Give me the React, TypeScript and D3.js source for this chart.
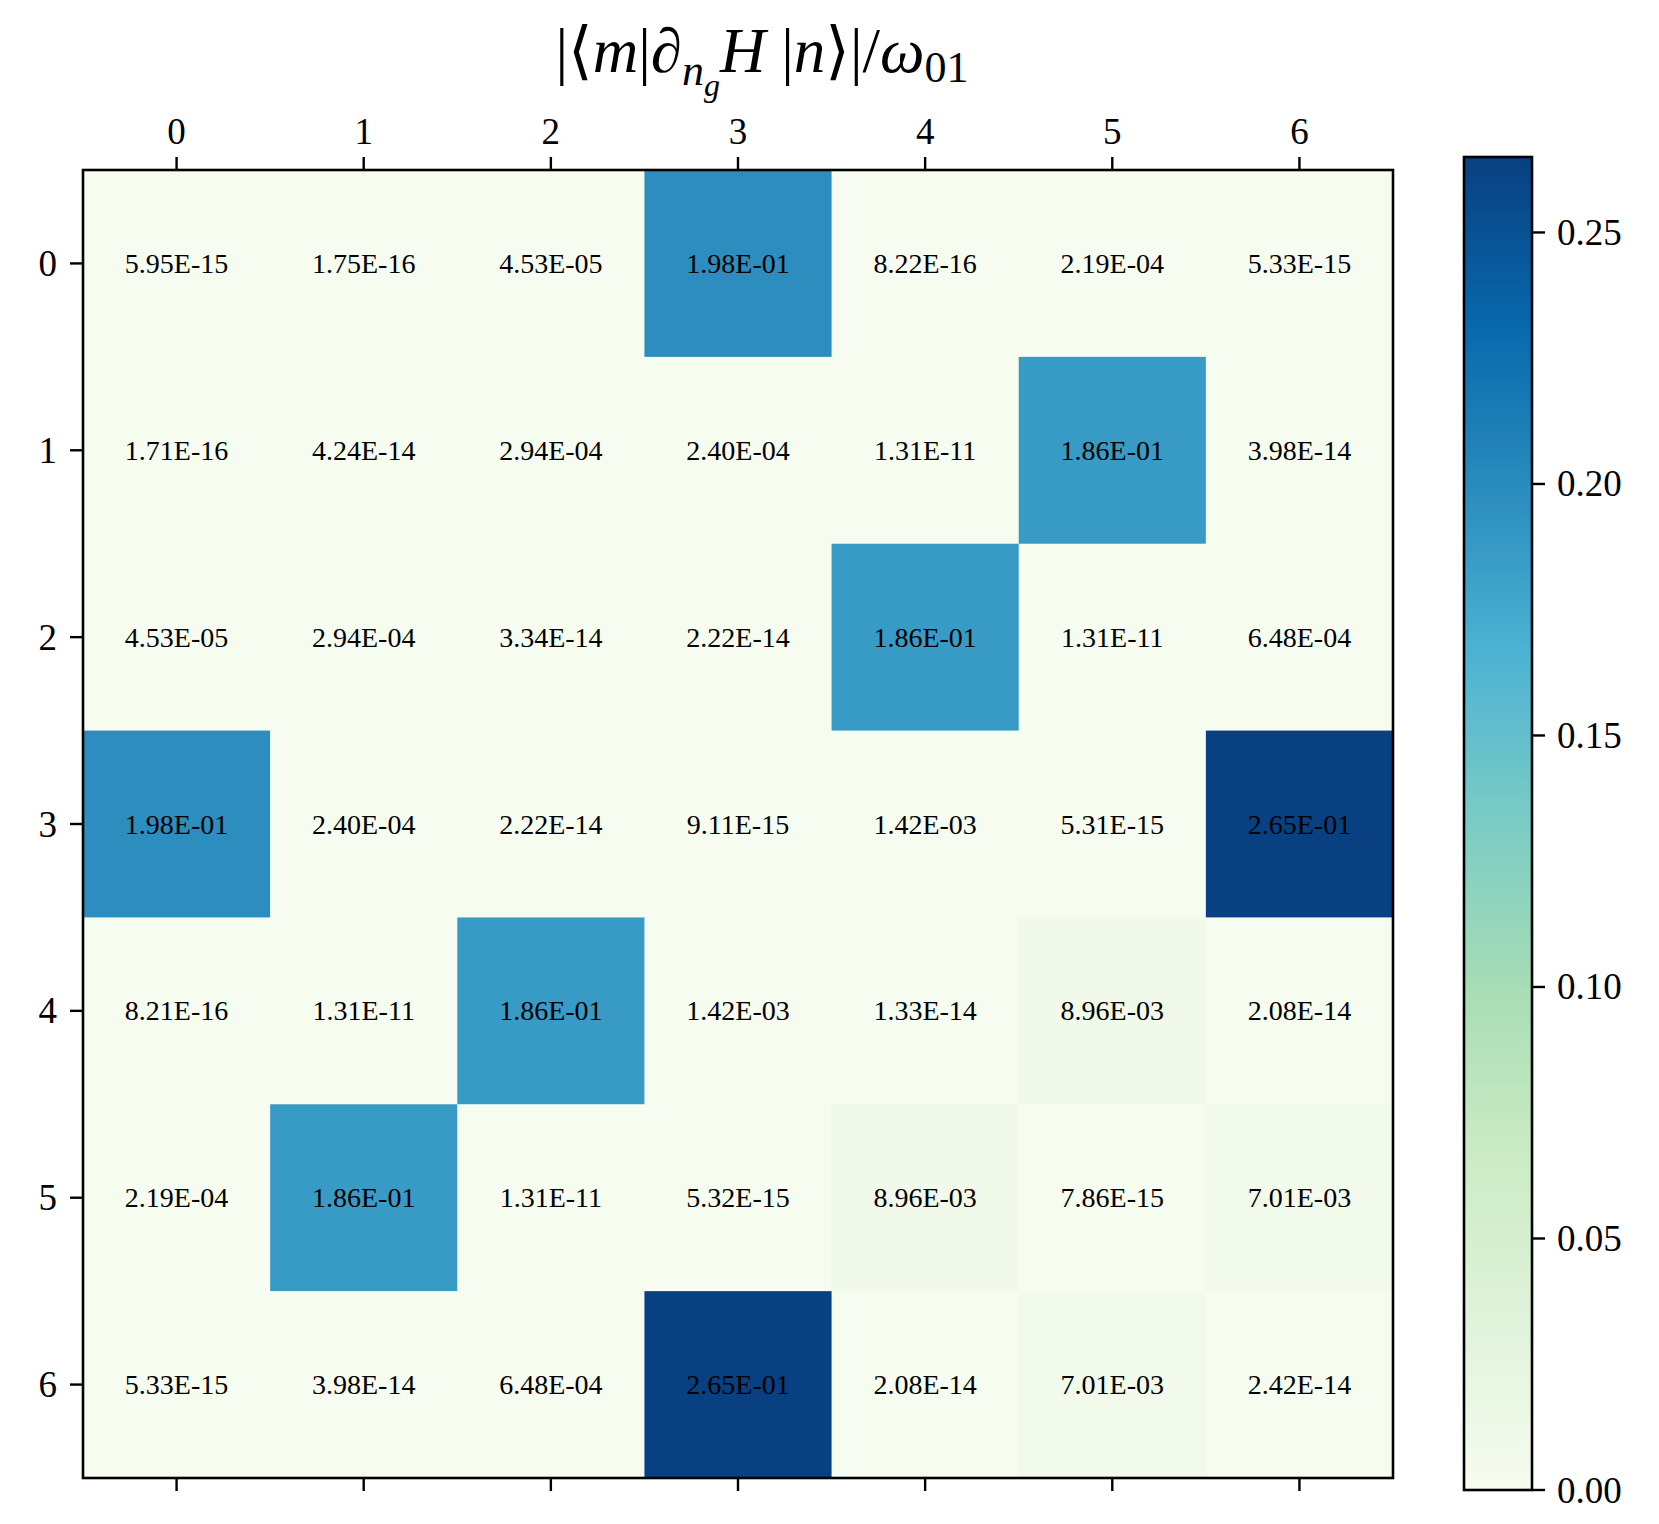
import React, { useEffect, useRef } from "react";
import * as d3 from "d3";

const rowLabels = ["0", "1", "2", "3", "4", "5", "6"];
const colLabels = ["0", "1", "2", "3", "4", "5", "6"];
const row0 = [5.95e-15, 1.75e-16, 4.53e-5, 1.98e-1, 8.22e-16, 2.19e-4, 5.33e-15];
const row1 = [1.71e-16, 4.24e-14, 2.94e-4, 2.4e-4, 1.31e-11, 1.86e-1, 3.98e-14];
const row2 = [4.53e-5, 2.94e-4, 3.34e-14, 2.22e-14, 1.86e-1, 1.31e-11, 6.48e-4];
const row3 = [1.98e-1, 2.4e-4, 2.22e-14, 9.11e-15, 1.42e-3, 5.31e-15, 2.65e-1];
const row4 = [8.21e-16, 1.31e-11, 1.86e-1, 1.42e-3, 1.33e-14, 8.96e-3, 2.08e-14];
const row5 = [2.19e-4, 1.86e-1, 1.31e-11, 5.32e-15, 8.96e-3, 7.86e-15, 7.01e-3];
const row6 = [5.33e-15, 3.98e-14, 6.48e-4, 2.65e-1, 2.08e-14, 7.01e-3, 2.42e-14];
const matrix = [row0, row1, row2, row3, row4, row5, row6];
const colorbarTicks = [0, 0.05, 0.1, 0.15, 0.2, 0.25];
const gnbu = ["#f7fcf0", "#e0f3db", "#ccebc5", "#a8ddb5", "#7bccc4", "#4eb3d3", "#2b8cbe", "#0868ac", "#084081"];

const W = 1659;
const H = 1524;
const FONT = "'Liberation Serif', 'DejaVu Serif', serif";

function fmt(v: number): string {
  const s = v.toExponential(2).toUpperCase();
  const m = s.match(/^(.*)E([+-])(\d+)$/);
  if (!m) return s;
  const exp = m[3].padStart(2, "0");
  return `${m[1]}E${m[2]}${exp}`;
}

export default function App() {
  const ref = useRef<SVGGElement | null>(null);

  useEffect(() => {
    const svg = d3.select(ref.current);
    svg.selectAll("*").remove();

    const left = 83, top = 170, right = 1393, bottom = 1478;
    const vmax = d3.max(matrix.flat()) as number;

    const x = d3.scaleBand<string>().domain(colLabels).range([left, right]);
    const y = d3.scaleBand<string>().domain(rowLabels).range([top, bottom]);

    const stops = gnbu.map((_, i) => (i / (gnbu.length - 1)) * vmax);
    const color = d3.scaleLinear<string>().domain(stops).range(gnbu).interpolate(d3.interpolateRgb).clamp(true);

    const g = svg.append("g");
    matrix.forEach((row, r) => {
      row.forEach((v, c) => {
        g.append("rect")
          .attr("x", x(colLabels[c]) as number)
          .attr("y", y(rowLabels[r]) as number)
          .attr("width", x.bandwidth() + 0.5)
          .attr("height", y.bandwidth() + 0.5)
          .attr("fill", color(v));
      });
    });
    matrix.forEach((row, r) => {
      row.forEach((v, c) => {
        g.append("text")
          .attr("x", (x(colLabels[c]) as number) + x.bandwidth() / 2)
          .attr("y", (y(rowLabels[r]) as number) + y.bandwidth() / 2)
          .attr("text-anchor", "middle")
          .attr("dominant-baseline", "central")
          .attr("font-family", FONT)
          .attr("font-size", 28)
          .attr("fill", "#000")
          .text(fmt(v));
      });
    });

    svg.append("rect")
      .attr("x", left).attr("y", top)
      .attr("width", right - left).attr("height", bottom - top)
      .attr("fill", "none").attr("stroke", "#000").attr("stroke-width", 2.6);

    const tickLen = 13;
    colLabels.forEach((lab) => {
      const cx = (x(lab) as number) + x.bandwidth() / 2;
      svg.append("line").attr("x1", cx).attr("x2", cx).attr("y1", top).attr("y2", top - tickLen)
        .attr("stroke", "#000").attr("stroke-width", 2.4);
      svg.append("line").attr("x1", cx).attr("x2", cx).attr("y1", bottom).attr("y2", bottom + tickLen)
        .attr("stroke", "#000").attr("stroke-width", 2.4);
      svg.append("text").attr("x", cx).attr("y", top - tickLen - 13)
        .attr("text-anchor", "middle").attr("font-family", FONT).attr("font-size", 37)
        .text(lab);
    });
    rowLabels.forEach((lab) => {
      const cy = (y(lab) as number) + y.bandwidth() / 2;
      svg.append("line").attr("x1", left).attr("x2", left - tickLen).attr("y1", cy).attr("y2", cy)
        .attr("stroke", "#000").attr("stroke-width", 2.4);
      svg.append("text").attr("x", left - tickLen - 13).attr("y", cy)
        .attr("text-anchor", "end").attr("dominant-baseline", "central")
        .attr("font-family", FONT).attr("font-size", 37)
        .text(lab);
    });

    const cbL = 1464, cbR = 1532, cbT = 157, cbB = 1490;
    const cy = d3.scaleLinear().domain([0, vmax]).range([cbB, cbT]);
    const defs = svg.append("defs");
    const grad = defs.append("linearGradient").attr("id", "cbgrad")
      .attr("x1", 0).attr("y1", 1).attr("x2", 0).attr("y2", 0);
    gnbu.forEach((col, i) => {
      grad.append("stop").attr("offset", i / (gnbu.length - 1)).attr("stop-color", col);
    });
    svg.append("rect").attr("x", cbL).attr("y", cbT).attr("width", cbR - cbL).attr("height", cbB - cbT)
      .attr("fill", "url(#cbgrad)").attr("stroke", "#000").attr("stroke-width", 2.6);
    colorbarTicks.forEach((t) => {
      const ty = cy(t);
      svg.append("line").attr("x1", cbR).attr("x2", cbR + tickLen).attr("y1", ty).attr("y2", ty)
        .attr("stroke", "#000").attr("stroke-width", 2.4);
      svg.append("text").attr("x", cbR + tickLen + 12).attr("y", ty)
        .attr("dominant-baseline", "central").attr("font-family", FONT).attr("font-size", 37)
        .text(t.toFixed(2));
    });
  }, []);

  const titleX = (83 + 1393) / 2 + 24;
  return (
    <svg width={W} height={H} style={{ display: "block", margin: -8 }} xmlns="http://www.w3.org/2000/svg">
      <rect width={W} height={H} fill="#fff" />
      <g ref={ref} />
      <text x={titleX} y={72} textAnchor="middle" fontFamily={FONT} fontSize={63}>
        <tspan>|⟨</tspan>
        <tspan fontStyle="italic">m</tspan>
        <tspan>|</tspan>
        <tspan fontStyle="italic">∂</tspan>
        <tspan fontStyle="italic" fontSize={44} dy={13}>n</tspan>
        <tspan fontStyle="italic" fontSize={32} dy={11}>g</tspan>
        <tspan fontStyle="italic" dy={-24}>H</tspan>
        <tspan> |</tspan>
        <tspan fontStyle="italic">n</tspan>
        <tspan>⟩|/</tspan>
        <tspan fontStyle="italic">ω</tspan>
        <tspan fontSize={44} dy={10}>01</tspan>
      </text>
    </svg>
  );
}
